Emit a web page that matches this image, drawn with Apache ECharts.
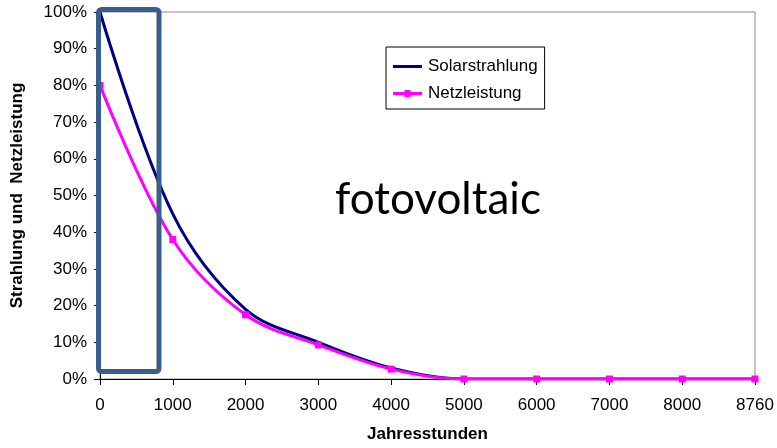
<!DOCTYPE html>
<html>
<head>
<meta charset="utf-8">
<script src="https://cdn.jsdelivr.net/npm/echarts@6/dist/echarts.min.js"></script>
<style>
html,body{margin:0;padding:0;background:#fff;}
#chart{width:777px;height:448px;}
</style>
</head>
<body>
<div id="chart"></div>
<script>
var hours = ['0','1000','2000','3000','4000','5000','6000','7000','8000','8760'];
var solarstrahlung = [100, 45, 19, 10, 3, 0, 0, 0, 0, 0];
var netzleistung = [80, 38, 17.5, 9.3, 2.7, 0, 0, 0, 0, 0];
var yTicks = [0,10,20,30,40,50,60,70,80,90,100];

var font = 'Liberation Sans, Arial, sans-serif';
var chart = echarts.init(document.getElementById('chart'));
chart.setOption({
  animation: false,
  backgroundColor: '#fff',
  grid: { left: 100, right: 22, top: 12, bottom: 69, show: true, borderColor: '#8c8c8c', borderWidth: 1, backgroundColor: 'transparent' },
  legend: {
    orient: 'vertical', left: 386, top: 47,
    padding: [11, 7, 7, 7],
    borderColor: '#000', borderWidth: 1,
    itemWidth: 29, itemHeight: 14, itemGap: 10,
    symbolKeepAspect: true,
    textStyle: { fontFamily: font, fontSize: 17, color: '#000', padding: [0,0,0,1] },
    data: [
      { name: 'Solarstrahlung', icon: 'path://M0,0 L29,0 L29,3 L0,3 Z' },
      { name: 'Netzleistung', icon: 'path://M0,2 L29,2 L29,5 L0,5 Z M11.5,0 L17.5,0 L17.5,7 L11.5,7 Z' }
    ]
  },
  xAxis: {
    type: 'category', data: hours, boundaryGap: false,
    name: 'Jahresstunden', nameLocation: 'middle', nameGap: 47,
    nameTextStyle: { fontFamily: font, fontSize: 17, fontWeight: 'bold', color: '#000' },
    axisLine: { lineStyle: { color: '#000', width: 1 } },
    axisTick: { show: true, length: 6, lineStyle: { color: '#000' }, interval: 0 },
    axisLabel: { interval: 0, margin: 18, fontFamily: font, fontSize: 17, color: '#000' },
    splitLine: { show: false }
  },
  yAxis: {
    type: 'value', min: 0, max: 100, interval: 10,
    name: 'Strahlung und  Netzleistung', nameLocation: 'middle', nameGap: 74, nameRotate: 90,
    nameTextStyle: { fontFamily: font, fontSize: 17, fontWeight: 'bold', color: '#000' },
    axisLine: { show: true, lineStyle: { color: '#000', width: 1 } },
    axisTick: { show: true, length: 6, lineStyle: { color: '#000' } },
    axisLabel: { margin: 13, fontFamily: font, fontSize: 17, color: '#000', formatter: function (v) { return yTicks.indexOf(v) >= 0 ? v + '%' : ''; } },
    splitLine: { show: false }
  },
  series: [
    {
      name: 'Solarstrahlung', type: 'line', data: solarstrahlung, smooth: 0.35,
      symbol: 'none', showSymbol: false,
      lineStyle: { color: '#000080', width: 3 },
      itemStyle: { color: '#000080' }, z: 3
    },
    {
      name: 'Netzleistung', type: 'line', data: netzleistung, smooth: 0.35,
      symbol: 'rect', symbolSize: 7, showSymbol: true,
      lineStyle: { color: '#ff00ff', width: 3 },
      itemStyle: { color: '#ff00ff' }, z: 4
    }
  ],
  graphic: [
    { type: 'rect', z: 100, shape: { x: 98.5, y: 9.5, width: 60.5, height: 362, r: 3 },
      style: { fill: 'none', stroke: '#3a5e8c', lineWidth: 5 } },
    { type: 'text', z: 100, x: 438, y: 200,
      style: { text: 'fotovoltaic', font: '44px Lato, "Open Sans", sans-serif', fill: '#000', textAlign: 'center', textVerticalAlign: 'middle' } }
  ]
});
</script>
</body>
</html>
